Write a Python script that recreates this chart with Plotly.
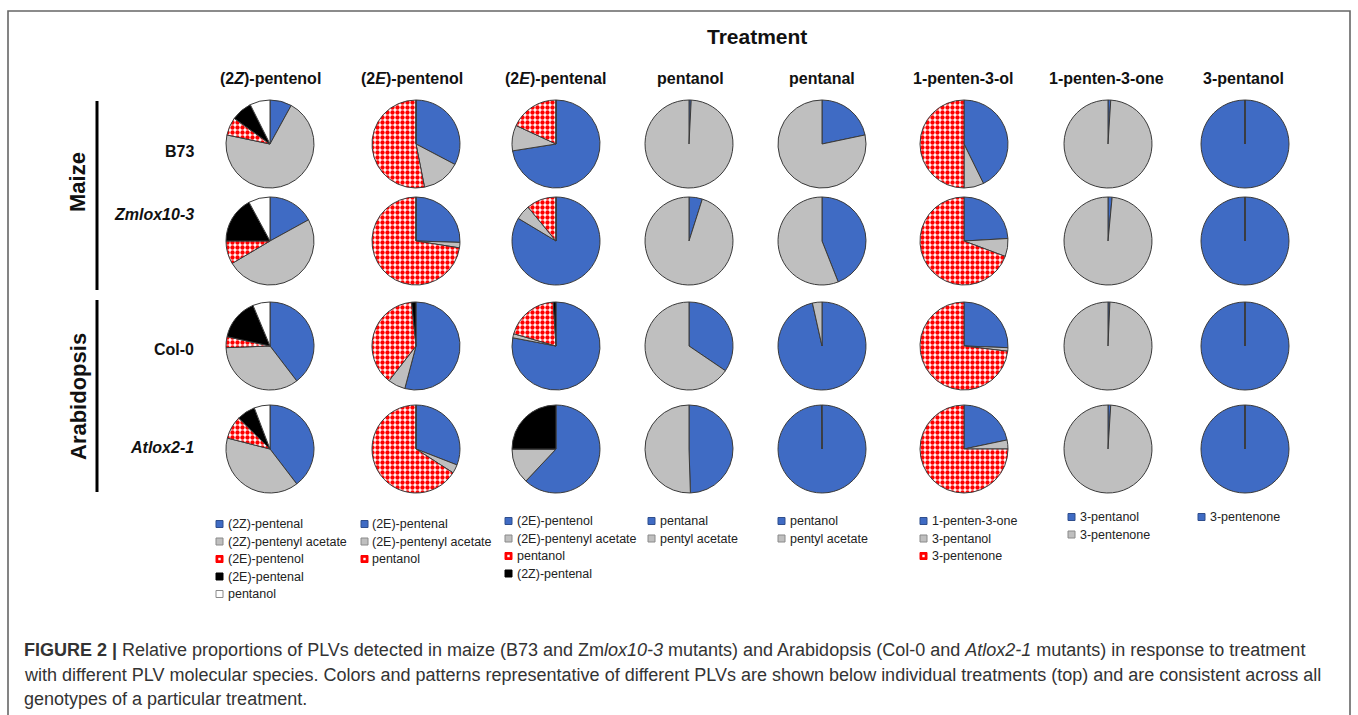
import plotly.graph_objects as go

W, H = 1358, 715

# ---- data -------------------------------------------------------------
treatments = ["(2<i>Z</i>)-pentenol", "(2<i>E</i>)-pentenol", "(2<i>E</i>)-pentenal",
              "pentanol", "pentanal", "1-penten-3-ol", "1-penten-3-one", "3-pentanol"]
genotypes = ["B73", "<i>Zmlox10-3</i>", "Col-0", "<i>Atlox2-1</i>"]

# slice labels (legend text) and fill styles for each treatment
t1_labels = ["(2Z)-pentenal", "(2Z)-pentenyl acetate", "(2E)-pentenol", "(2E)-pentenal", "pentanol"]
t1_styles = ["blue", "gray", "check", "black", "white"]
t2_labels = ["(2E)-pentenal", "(2E)-pentenyl acetate", "pentanol", ""]
t2_styles = ["blue", "gray", "check", "black"]
t3_labels = ["(2E)-pentenol", "(2E)-pentenyl acetate", "pentanol", "(2Z)-pentenal"]
t3_styles = ["blue", "gray", "check", "black"]
t4_labels = ["pentanal", "pentyl acetate"]
t4_styles = ["blue", "gray"]
t5_labels = ["pentanol", "pentyl acetate"]
t5_styles = ["blue", "gray"]
t6_labels = ["1-penten-3-one", "3-pentanol", "3-pentenone"]
t6_styles = ["blue", "gray", "check"]
t7_labels = ["3-pentanol", "3-pentenone"]
t7_styles = ["blue", "gray"]
t8_labels = ["3-pentenone", ""]
t8_styles = ["blue", "blue"]

# relative proportions (%) per genotype: B73, Zmlox10-3, Col-0, Atlox2-1
t1_values = [[8.0, 70.3, 6.6, 7.7, 7.4],
             [17.0, 49.5, 8.5, 17.1, 7.9],
             [39.6, 34.8, 4.0, 15.3, 6.3],
             [39.6, 39.4, 8.4, 6.8, 5.8]]
t2_values = [[32.7, 14.2, 53.1, 0.0],
             [25.5, 2.0, 72.5, 0.0],
             [54.1, 6.4, 37.9, 1.6],
             [30.9, 3.2, 65.9, 0.0]]
t3_values = [[72.5, 9.4, 18.1, 0.0],
             [83.6, 5.4, 11.0, 0.0],
             [78.0, 1.5, 19.5, 1.0],
             [62.0, 13.0, 0.0, 25.0]]
t4_values = [[0.8, 99.2],
             [4.9, 95.1],
             [34.5, 65.5],
             [49.5, 50.5]]
t5_values = [[21.7, 78.3],
             [44.0, 56.0],
             [96.5, 3.5],
             [99.8, 0.2]]
t6_values = [[42.7, 7.3, 50.0],
             [24.1, 6.6, 69.3],
             [25.6, 1.3, 73.1],
             [21.7, 3.3, 75.0]]
t7_values = [[1.0, 99.0],
             [1.5, 98.5],
             [0.7, 99.3],
             [1.0, 99.0]]
t8_values = [[99.95, 0.05],
             [99.95, 0.05],
             [99.95, 0.05],
             [99.95, 0.05]]

all_labels = [t1_labels, t2_labels, t3_labels, t4_labels, t5_labels, t6_labels, t7_labels, t8_labels]
all_styles = [t1_styles, t2_styles, t3_styles, t4_styles, t5_styles, t6_styles, t7_styles, t8_styles]
all_values = [t1_values, t2_values, t3_values, t4_values, t5_values, t6_values, t7_values, t8_values]

# ---- styling ----------------------------------------------------------
BLUE = "#3F6BC4"
GRAY = "#BFBFBF"
RED = "#FF0000"
FILL = {"blue": BLUE, "gray": GRAY, "check": "#FFFFFF", "black": "#000000", "white": "#FFFFFF"}

col_x = [270, 416, 556, 689, 822, 964, 1108, 1245]
row_y = [144, 241, 346, 449]
R = 44

FONT = "Liberation Sans, Arial, sans-serif"


def px(x):
    return x / W


def py(y):
    return 1 - y / H


fig = go.Figure()

for c in range(8):
    styles = all_styles[c]
    colors = [FILL[s] for s in styles]
    shapes_ = ["." if s == "check" else "" for s in styles]
    for r in range(4):
        cx, cy = col_x[c], row_y[r]
        fig.add_trace(go.Pie(
            values=all_values[c][r],
            labels=[f"{lab or 'other'} {i}" for i, lab in enumerate(all_labels[c])],
            sort=False,
            direction="clockwise",
            rotation=0,
            textinfo="none",
            hoverinfo="skip",
            showlegend=False,
            marker=dict(
                colors=colors,
                line=dict(color="#3A3A3A", width=1),
                pattern=dict(shape=shapes_, fgcolor=RED, bgcolor="#FFFFFF", fgopacity=1,
                             size=5, solidity=0.6, fillmode="overlay"),
            ),
            domain=dict(x=[px(cx - R), px(cx + R)], y=[py(cy + R), py(cy - R)]),
        ))

annotations = []
shapes = []


def text(t, x, y, size, xanchor="center", yanchor="middle", **kw):
    annotations.append(dict(text=t, x=px(x), y=py(y), xref="paper", yref="paper",
                            xanchor=xanchor, yanchor=yanchor, showarrow=False,
                            font=dict(family=kw.pop("family", FONT), size=size,
                                      color=kw.pop("color", "#111")), **kw))


# frame
shapes.append(dict(type="rect", xref="paper", yref="paper",
                   x0=px(8), x1=px(1350), y0=py(725), y1=py(11),
                   line=dict(color="#666666", width=1.6)))

# title and treatment headers
text("<b>Treatment</b>", 757, 37, 21)
header_x = [270, 412, 555, 690, 822, 963, 1106, 1243]
for c, t in enumerate(treatments):
    text(f"<b>{t}</b>", header_x[c], 78, 16)

# genotype labels
label_y = [152, 215, 349, 447]
for r, g in enumerate(genotypes):
    text(f"<b>{g}</b>", 196, label_y[r], 16, xanchor="right")

# species group labels and bars
for name, yc, y0, y1 in [("Maize", 182, 101, 290), ("Arabidopsis", 397, 300, 492)]:
    text(f"<b>{name}</b>", 78, yc, 22, textangle=-90)
    shapes.append(dict(type="line", xref="paper", yref="paper", x0=px(97), x1=px(97),
                       y0=py(y0), y1=py(y1), line=dict(color="#000", width=3)))

# per-treatment keys
leg_x = [216, 361, 505, 648, 778, 920, 1068, 1198]
leg_y0 = [524, 524, 521, 521, 521, 521, 517, 517]
LS = 17.5
S = 7
MARK_LINE = {"blue": "#2F4E8C", "gray": "#8A8A8A", "check": RED, "black": "#000", "white": "#8A8A8A"}
for c in range(8):
    k = 0
    for lab, st in zip(all_labels[c], all_styles[c]):
        if not lab:
            continue
        x0 = leg_x[c]
        yc = leg_y0[c] + k * LS
        shapes.append(dict(type="rect", xref="paper", yref="paper",
                           x0=px(x0), x1=px(x0 + S), y0=py(yc + S / 2), y1=py(yc - S / 2),
                           fillcolor=RED if st == "check" else FILL[st],
                           line=dict(color=MARK_LINE[st], width=1)))
        if st == "check":
            shapes.append(dict(type="rect", xref="paper", yref="paper",
                               x0=px(x0 + 2.3), x1=px(x0 + 4.7), y0=py(yc + 1.2), y1=py(yc - 1.2),
                               fillcolor="#FFFFFF", line=dict(width=0)))
        text(lab, x0 + S + 2.5, yc, 12.5, xanchor="left", color="#222")
        k += 1

# caption
cap_lines = [
    "<b>FIGURE 2 |</b> Relative proportions of PLVs detected in maize (B73 and Zm<i>lox10-3</i> mutants) "
    "and Arabidopsis (Col-0 and <i>Atlox2-1</i> mutants) in response to treatment",
    "with different PLV molecular species. Colors and patterns representative of different PLVs are shown "
    "below individual treatments (top) and are consistent across all",
    "genotypes of a particular treatment.",
]
for i, line in enumerate(cap_lines):
    text(line, 22, 650 + i * 24.5, 18, xanchor="left", color="#333")

fig.update_layout(
    width=W, height=H,
    margin=dict(l=0, r=0, t=0, b=0),
    paper_bgcolor="#FFFFFF",
    plot_bgcolor="#FFFFFF",
    annotations=annotations,
    shapes=shapes,
    showlegend=False,
)

fig.write_html("out.html")
